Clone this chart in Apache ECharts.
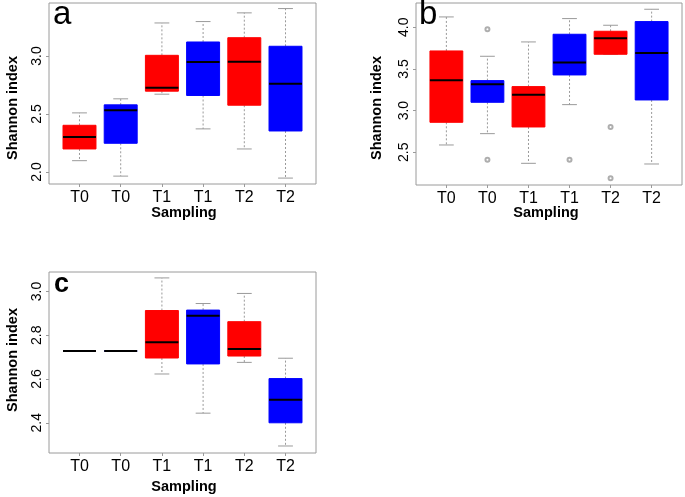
<!DOCTYPE html>
<html>
<head>
<meta charset="utf-8">
<script src="https://cdn.jsdelivr.net/npm/echarts@6/dist/echarts.min.js"></script>
<style>html,body{margin:0;padding:0;background:#fff}#c{width:685px;height:497px}</style>
</head>
<body>
<div id="c"></div>
<script>
// ---- data ----
const categories = ['T0', 'T0', 'T1', 'T1', 'T2', 'T2'];
// each box: [min, Q1, median, Q3, max]
const panelA = [
  [2.098, 2.199, 2.303, 2.403, 2.510],
  [1.965, 2.248, 2.533, 2.579, 2.631],
  [2.671, 2.697, 2.726, 3.006, 3.285],
  [2.372, 2.660, 2.948, 3.121, 3.297],
  [2.199, 2.576, 2.951, 3.158, 3.372],
  [1.948, 2.354, 2.761, 3.084, 3.409]
];
const panelB = [
  [2.588, 2.860, 3.364, 3.716, 4.124],
  [2.724, 3.100, 3.316, 3.360, 3.652],
  [2.368, 2.804, 3.192, 3.288, 3.824],
  [3.072, 3.428, 3.576, 3.916, 4.104],
  [3.676, 3.676, 3.868, 3.952, 4.024],
  [2.360, 3.128, 3.692, 4.068, 4.216]
];
const outliersB = [[2, 3.976], [2, 2.412], [4, 2.412], [5, 2.804], [5, 2.188]];
const panelC = [
  [2.728, 2.728, 2.728, 2.728, 2.728],
  [2.728, 2.728, 2.728, 2.728, 2.728],
  [2.623, 2.696, 2.768, 2.913, 3.062],
  [2.444, 2.669, 2.889, 2.915, 2.945],
  [2.676, 2.705, 2.737, 2.862, 2.991],
  [2.294, 2.400, 2.505, 2.602, 2.695]
];
const ticksA = [2.0, 2.5, 3.0];
const ticksB = [2.5, 3.0, 3.5, 4.0];
const ticksC = [2.4, 2.6, 2.8, 3.0];
const panelLetters = ['a', 'b', 'c'];
const xTitle = 'Sampling';
const yTitle = 'Shannon index';

// ---- style ----
const boxColors = ['#FF0000', '#0000FF', '#FF0000', '#0000FF', '#FF0000', '#0000FF'];
const FONT = '"Liberation Sans", Arial, sans-serif';
const GRAY = '#9a9a9a';

const chart = echarts.init(document.getElementById('c'), null, {renderer: 'canvas'});

function withX(arr) { return arr.map((b, i) => [i + 1].concat(b)); }

function renderBox(params, api) {
  const x = api.value(0);
  const vmin = api.value(1), q1 = api.value(2), med = api.value(3), q3 = api.value(4), vmax = api.value(5);
  const hw = api.size([0.8, 0])[0] / 2;
  const cw = api.size([0.36, 0])[0] / 2;
  const c = api.coord([x, med]);
  const cx = c[0];
  const yMin = api.coord([x, vmin])[1];
  const yQ1 = api.coord([x, q1])[1];
  const yMed = c[1];
  const yQ3 = api.coord([x, q3])[1];
  const yMax = api.coord([x, vmax])[1];
  const col = boxColors[params.dataIndex];
  const dash = {stroke: GRAY, lineWidth: 1, lineDash: [2, 2]};
  const solid = {stroke: GRAY, lineWidth: 1};
  return {
    type: 'group',
    children: [
      {type: 'line', shape: {x1: cx, y1: yQ3, x2: cx, y2: yMax}, style: dash},
      {type: 'line', shape: {x1: cx, y1: yQ1, x2: cx, y2: yMin}, style: dash},
      {type: 'line', shape: {x1: cx - cw, y1: yMax, x2: cx + cw, y2: yMax}, style: solid},
      {type: 'line', shape: {x1: cx - cw, y1: yMin, x2: cx + cw, y2: yMin}, style: solid},
      {type: 'rect', shape: {x: cx - hw, y: yQ3, width: 2 * hw, height: yQ1 - yQ3},
        style: {fill: col, stroke: col, lineWidth: 1}},
      {type: 'line', shape: {x1: cx - hw, y1: yMed, x2: cx + hw, y2: yMed},
        style: {stroke: '#000', lineWidth: 2}}
    ]
  };
}

const grids = [
  {left: 49, top: 3, width: 267, height: 181},
  {left: 416, top: 3, width: 266, height: 182},
  {left: 49, top: 272, width: 267, height: 181}
];
const yRanges = [[1.897, 3.457], [2.108, 4.291], [2.262, 3.089]];
const yTicks = [ticksA, ticksB, ticksC];
const panels = [panelA, panelB, panelC];
const catPos = categories.map((_, i) => i + 1);

const option = {
  backgroundColor: '#fff',
  animation: false,
  grid: grids.map(g => Object.assign({show: true, borderColor: GRAY, borderWidth: 1, backgroundColor: 'transparent'}, g)),
  xAxis: grids.map((g, i) => ({
    type: 'value', gridIndex: i, min: 0.26, max: 6.74,
    axisLine: {show: false},
    splitLine: {show: false},
    axisTick: {show: true, customValues: catPos, length: 3, lineStyle: {color: GRAY}},
    axisLabel: {show: true, customValues: catPos, margin: 6, fontSize: 16, color: '#000', fontFamily: FONT,
      formatter: v => categories[Math.round(v) - 1] || ''}
  })),
  yAxis: grids.map((g, i) => ({
    type: 'value', gridIndex: i, min: yRanges[i][0], max: yRanges[i][1],
    axisLine: {show: false},
    splitLine: {show: false},
    axisTick: {show: true, customValues: yTicks[i], length: 3, lineStyle: {color: GRAY}},
    axisLabel: {show: true, customValues: yTicks[i], rotate: 90, margin: 5, fontSize: 14, color: '#000', fontFamily: FONT,
      formatter: v => v.toFixed(1)}
  })),
  series: [
    ...panels.map((p, i) => ({
      type: 'custom', xAxisIndex: i, yAxisIndex: i,
      renderItem: renderBox,
      encode: {x: 0, y: [1, 2, 3, 4, 5]},
      data: withX(p)
    })),
    {
      type: 'scatter', xAxisIndex: 1, yAxisIndex: 1,
      symbol: 'emptyCircle', symbolSize: 4,
      itemStyle: {color: GRAY, borderColor: GRAY, borderWidth: 1},
      data: outliersB
    }
  ],
  graphic: [
    {type: 'text', x: 53, y: 15, style: {text: panelLetters[0], font: '33px ' + FONT, fill: '#000', verticalAlign: 'middle'}},
    {type: 'text', x: 419, y: 15, style: {text: panelLetters[1], font: '33px ' + FONT, fill: '#000', verticalAlign: 'middle'}},
    {type: 'text', x: 54, y: 285, style: {text: panelLetters[2], font: 'bold 27px ' + FONT, fill: '#000', verticalAlign: 'middle'}},
    {type: 'text', x: 13, y: 108, rotation: Math.PI / 2, style: {text: yTitle, font: 'bold 14.5px ' + FONT, fill: '#000', align: 'center', verticalAlign: 'middle'}},
    {type: 'text', x: 377, y: 108, rotation: Math.PI / 2, style: {text: yTitle, font: 'bold 14.5px ' + FONT, fill: '#000', align: 'center', verticalAlign: 'middle'}},
    {type: 'text', x: 13, y: 360, rotation: Math.PI / 2, style: {text: yTitle, font: 'bold 14.5px ' + FONT, fill: '#000', align: 'center', verticalAlign: 'middle'}},
    {type: 'text', x: 184, y: 213, style: {text: xTitle, font: 'bold 14.5px ' + FONT, fill: '#000', align: 'center', verticalAlign: 'middle'}},
    {type: 'text', x: 546, y: 213, style: {text: xTitle, font: 'bold 14.5px ' + FONT, fill: '#000', align: 'center', verticalAlign: 'middle'}},
    {type: 'text', x: 184, y: 487, style: {text: xTitle, font: 'bold 14.5px ' + FONT, fill: '#000', align: 'center', verticalAlign: 'middle'}}
  ]
};
chart.setOption(option);
</script>
</body>
</html>
